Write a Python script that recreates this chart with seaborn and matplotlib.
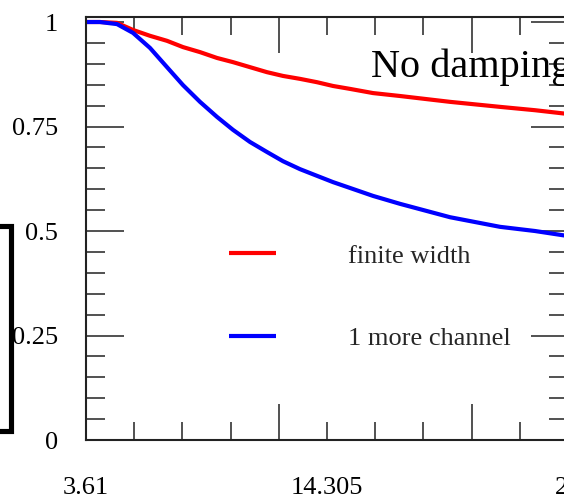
import matplotlib
matplotlib.use("Agg")
import matplotlib.pyplot as plt
import matplotlib.patches as mpatches
import seaborn as sns
import numpy as np
import pandas as pd

# ---- data ----
x_vals = [3.61, 4.231, 4.986, 5.696, 6.450, 7.205, 7.915, 8.669, 9.424, 10.134,
          10.888, 11.642, 12.352, 13.107, 13.861, 14.571, 15.326, 16.347,
          17.545, 19.764, 21.982, 23.535, 25.0]
finite_width = [1.0, 1.0, 0.998, 0.981, 0.967, 0.955, 0.940, 0.928, 0.914, 0.904,
                0.892, 0.880, 0.871, 0.864, 0.856, 0.847, 0.840, 0.830,
                0.823, 0.809, 0.797, 0.789, 0.780]
more_channel = [1.0, 1.0, 0.995, 0.974, 0.938, 0.892, 0.849, 0.809, 0.773, 0.742,
                0.713, 0.689, 0.667, 0.648, 0.632, 0.617, 0.603, 0.584,
                0.565, 0.533, 0.510, 0.500, 0.488]
series_names = ["finite width", "1 more channel"]
series_colors = ["#ff0000", "#0000ff"]
x_label_values = [3.61, 14.305, 25.0]
x_label_texts = ["3.61", "14.305", "25"]
y_major = [0, 0.25, 0.5, 0.75, 1.0]
y_label_texts = ["0", "0.25", "0.5", "0.75", "1"]
title_text = "No damping"

df = pd.DataFrame({
    "x": x_vals * 2,
    "y": finite_width + more_channel,
    "series": [series_names[0]] * len(x_vals) + [series_names[1]] * len(x_vals),
})

sns.set_style("ticks")
plt.rcParams["font.family"] = ["Liberation Serif", "DejaVu Serif"]

fig = plt.figure(figsize=(5.64, 4.98), dpi=100)
ax = fig.add_axes([86 / 564, 58 / 498, 482 / 564, 423 / 498])

sns.lineplot(data=df, x="x", y="y", hue="series", hue_order=series_names,
             palette=series_colors, linewidth=3.0, legend=False, ax=ax,
             errorbar=None)
for ln in ax.get_lines():
    ln.set_solid_joinstyle("round")
    ln.set_solid_capstyle("butt")

ax.set_xlim(3.61, 25.0)
ax.set_ylim(0, 1.012)
ax.set_xlabel("")
ax.set_ylabel("")

# x ticks: 11 positions, long ones at index 4 and 8
step = (25.0 - 3.61) / 10
all_x = [3.61 + i * step for i in range(11)]
long_x = [all_x[4], all_x[8]]
short_x = [v for i, v in enumerate(all_x) if i not in (4, 8)]
ax.set_xticks(long_x, labels=["", ""])
short_labels = []
for v in short_x:
    lab = ""
    for lv, lt in zip(x_label_values, x_label_texts):
        if abs(lv - v) < 1e-3:
            lab = lt
    short_labels.append(lab)
ax.set_xticks(short_x, labels=short_labels, minor=True)
ax.xaxis.set_tick_params(which="major", length=26, width=1.1, direction="in",
                         top=True, bottom=True)
ax.xaxis.set_tick_params(which="minor", length=13, width=1.1, direction="in",
                         top=True, bottom=True, pad=26.5, labelsize=19)

ax.set_yticks(y_major, labels=y_label_texts)
ax.set_yticks([i * 0.05 for i in range(21) if i % 5 != 0], minor=True)
ax.yaxis.set_tick_params(which="major", length=27, width=1.1, direction="in",
                         left=True, right=True, pad=20, labelsize=19)
ax.yaxis.set_tick_params(which="minor", length=14, width=1.1, direction="in",
                         left=True, right=True)

for s in ax.spines.values():
    s.set_visible(True)
    s.set_linewidth(1.5)
    s.set_color("#222222")
ax.tick_params(which="both", color="#222222", labelcolor="black")

ax.text((371 - 86) / 482, (440 - 77) / 423, title_text, transform=ax.transAxes,
        ha="left", va="baseline", fontsize=29, color="black")

leg = ax.legend(handles=ax.get_lines()[:2], labels=series_names, frameon=False,
                fontsize=19, handlelength=1.78, handletextpad=2.73,
                labelspacing=2.23, borderpad=0, borderaxespad=0,
                loc="center left",
                bbox_to_anchor=((229 - 86) / 482, (440 - 297) / 423))

# partial black frame at the left edge
rect = mpatches.Rectangle((-0.2, (498 - 430.5) / 498), 0.2 + 10.5 / 564,
                          (430.5 - 226.5) / 498, fill=False, edgecolor="black",
                          linewidth=3.7, transform=fig.transFigure, figure=fig)
fig.patches.append(rect)

fig.savefig("out.png", dpi=100)
